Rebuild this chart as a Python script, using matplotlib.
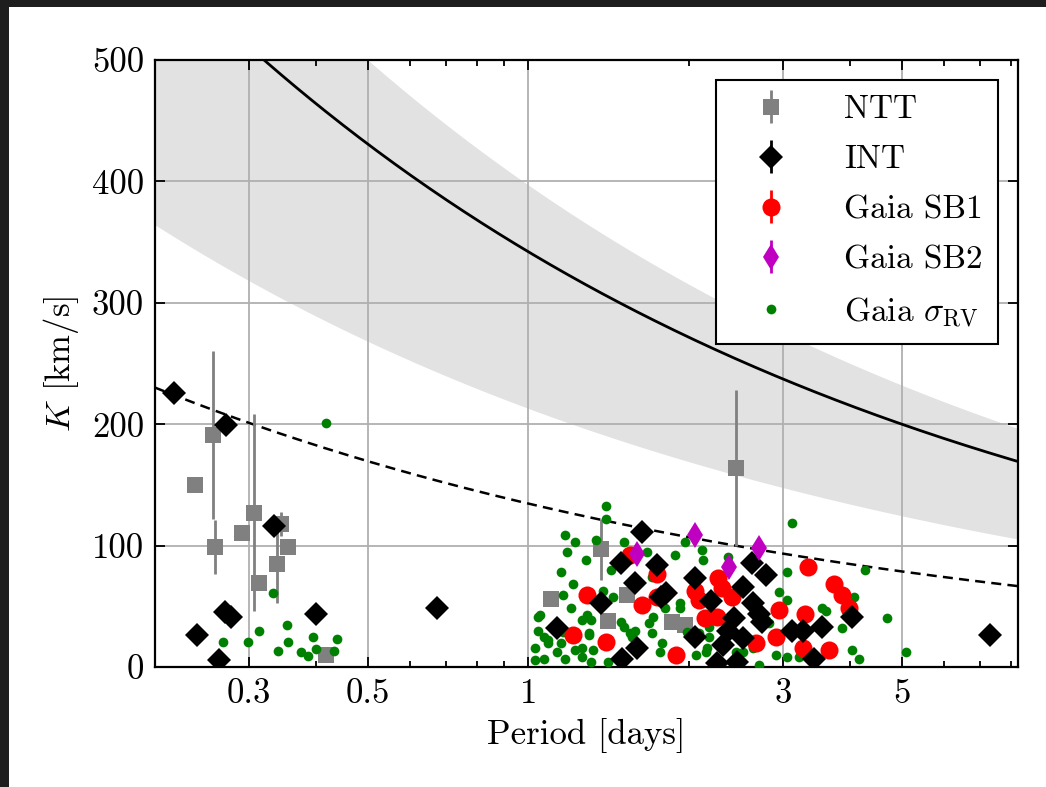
import numpy as np
import matplotlib
matplotlib.use("Agg")
import matplotlib.pyplot as plt
from matplotlib.patches import Rectangle
from matplotlib.ticker import LogLocator, NullFormatter

matplotlib.rcParams['font.family'] = 'serif'
matplotlib.rcParams['font.serif'] = ['cmr10']
matplotlib.rcParams['mathtext.fontset'] = 'cm'
matplotlib.rcParams['axes.unicode_minus'] = False
matplotlib.rcParams['font.size'] = 25

# --- data ---
ntt_P = [0.257, 0.238, 0.259, 0.307, 0.291, 0.313, 0.339, 0.345, 0.355, 0.418,
         1.37, 1.10, 1.41, 1.53, 1.86, 1.96, 2.45]
ntt_K = [191, 150, 99, 127, 110, 69, 85, 118, 99, 10,
         97, 56, 38, 59, 37, 35, 164]
ntt_err = [69, 0, 22, 81, 0, 0, 32, 10, 0, 0,
           25, 0, 0, 0, 0, 0, 64]

int_P = [0.217, 0.272, 0.334, 0.270, 0.277, 0.240, 0.264, 0.401, 0.673, 7.30,
         1.63, 1.49, 1.74, 1.58, 1.37, 1.13, 1.60, 1.50, 1.77, 2.05,
         1.81, 2.20, 2.52, 2.62, 2.79, 2.43, 2.63, 2.70, 2.36, 2.05,
         2.52, 2.31, 2.25, 2.46, 3.11, 2.74, 4.04, 3.55, 3.26, 3.43]
int_K = [226, 199, 116, 45, 41, 26, 6, 44, 49, 26,
         111, 86, 84, 69, 53, 32, 16, 7, 58, 73,
         61, 54, 66, 86, 76, 40, 53, 44, 30, 25,
         24, 18, 3, 4, 30, 37, 41, 33, 30, 7]

sb1_P = [1.29, 1.21, 1.40, 1.63, 1.55, 1.74, 1.74, 2.26, 2.05, 2.30,
         2.40, 2.14, 2.25, 2.95, 1.89, 2.67, 2.91, 2.09, 3.34, 3.74,
         3.87, 3.99, 3.30, 3.26, 3.65]
sb1_K = [59, 26, 21, 51, 92, 77, 58, 73, 63, 65,
         58, 40, 41, 47, 10, 20, 25, 55, 82, 68,
         59, 49, 44, 16, 14]

sb2_P = [1.60, 2.05, 2.70, 2.37]
sb2_K = [93, 109, 98, 82]

rv_P = [0.418, 0.333, 0.268, 0.298, 0.313, 0.354, 0.355, 0.340, 0.396, 0.439,
        0.375, 0.386, 0.400, 0.432,
        1.40, 1.40, 1.17, 1.22, 1.18, 1.28, 1.34, 1.15, 1.43, 1.51,
        1.67, 1.21, 1.16, 1.38, 1.44, 1.20, 1.29, 1.04, 1.26, 1.31,
        1.49, 1.04, 1.07, 1.09, 1.15, 1.30, 1.51, 1.56, 1.70, 1.03,
        1.13, 1.22, 1.32, 1.07, 1.17, 1.26, 1.31, 1.41, 1.03, 1.58,
        1.71, 1.70,
        3.11, 1.96, 2.11, 2.12, 1.88, 2.36, 3.05, 3.05, 1.92, 1.80,
        2.18, 2.16, 2.06, 2.52, 2.91, 2.70, 3.05, 1.78, 2.82,
        4.26, 4.07, 3.55, 3.61, 4.70, 3.86, 4.03, 4.16, 5.09, 3.21,
        1.05, 1.09, 1.16, 1.26, 1.30, 1.55, 1.68, 1.76, 1.92, 1.98,
        2.09, 2.18, 2.15, 2.45, 2.63, 2.79, 2.95]
rv_K = [201, 61, 21, 21, 30, 35, 21, 13, 25, 23,
        12, 9, 15, 13,
        133, 122, 109, 103, 95, 88, 105, 78, 80, 103,
        95, 68, 59, 63, 58, 49, 43, 41, 39, 39,
        37, 30, 25, 20, 20, 26, 33, 25, 28, 16,
        12, 14, 14, 7, 7, 8, 4, 4, 6, 30,
        41, 74,
        119, 103, 96, 88, 92, 91, 78, 55, 53, 49,
        25, 16, 10, 12, 10, 2, 8, 20, 36,
        80, 58, 49, 46, 40, 32, 14, 7, 12, 8,
        43, 22, 29, 16, 28, 28, 36, 12, 49, 29,
        28, 33, 12, 12, 16, 39, 62]

# K ~ A * P^(-1/3) curves
A_mid = 342.0
A_lo, A_hi = 213.0, 397.0
A_dash = 134.6

fig = plt.figure(figsize=(10.46, 7.87), dpi=100)
fig.patch.set_facecolor('#1e1e1e')
fig.patches.append(Rectangle((9 / 1046, 0), 1, 1 - 7 / 787, transform=fig.transFigure,
                             facecolor='white', edgecolor='none', zorder=-10))
ax = fig.add_axes([155 / 1046, 1 - 667 / 787, (1018 - 155) / 1046, (667 - 60) / 787])

ax.set_xscale('log')
ax.set_xlim(0.2, 8.25)
ax.set_ylim(0, 500)

P = np.logspace(np.log10(0.2), np.log10(8.25), 300)
ax.fill_between(P, A_lo * P ** (-1 / 3), A_hi * P ** (-1 / 3), color='#e2e2e2', lw=0, zorder=0.5)
ax.plot(P, A_mid * P ** (-1 / 3), color='black', lw=2.0, zorder=2)
ax.plot(P, A_dash * P ** (-1 / 3), color='black', lw=1.8, ls=(0, (4, 2.5)), zorder=2)

h_ntt = ax.errorbar(ntt_P, ntt_K, yerr=ntt_err, fmt='s', color='#808080', ms=11.5, mew=0,
                    elinewidth=2, capsize=0, label='NTT', zorder=3)
h_int = ax.errorbar(int_P, int_K, yerr=[4] * len(int_K), fmt='D', color='black', ms=12, mew=0,
                    elinewidth=2, capsize=0, label='INT', zorder=5)
h_sb1 = ax.errorbar(sb1_P, sb1_K, yerr=[4] * len(sb1_K), fmt='o', color='red', ms=13, mew=0,
                    elinewidth=2, capsize=0, label='Gaia SB1', zorder=4)
h_sb2 = ax.errorbar(sb2_P, sb2_K, yerr=[4] * len(sb2_K), fmt='d', color='#c000c0', ms=13, mew=0,
                    elinewidth=2, capsize=0, label='Gaia SB2', zorder=6)
h_rv, = ax.plot(rv_P, rv_K, 'o', color='green', ms=7, mew=0, ls='none',
                label=r'Gaia $\sigma_{\rm RV}$', zorder=3.5)

ax.set_xticks([0.3, 0.5, 1, 3, 5])
ax.set_xticklabels(['0.3', '0.5', '1', '3', '5'])
ax.xaxis.set_minor_locator(LogLocator(base=10, subs=np.arange(2, 10)))
ax.xaxis.set_minor_formatter(NullFormatter())
ax.set_yticks([0, 100, 200, 300, 400, 500])

ax.grid(True, which='major', color='#b0b0b0', lw=1.3)
ax.tick_params(direction='in', top=True, bottom=True, left=True, right=True,
               which='both', width=1.3)
ax.tick_params(which='major', length=7, labelsize=25, pad=8)
ax.tick_params(which='minor', length=4)
for s in ax.spines.values():
    s.set_linewidth(1.6)

ax.set_xlabel('Period [days]', fontsize=25, labelpad=6)
ax.set_ylabel(r'$K$ [km/s]', fontsize=25, labelpad=8)

leg = ax.legend([h_ntt, h_int, h_sb1, h_sb2, h_rv],
                ['NTT', 'INT', 'Gaia SB1', 'Gaia SB2', r'Gaia $\sigma_{\rm RV}$'],
                loc='upper right', fontsize=24, fancybox=False, framealpha=1,
                edgecolor='black', handlelength=2.4, handletextpad=1.0, labelspacing=0.62,
                borderaxespad=0.6, borderpad=0.45, numpoints=1)
leg.get_frame().set_linewidth(1.5)

fig.savefig('out.png', dpi=100, facecolor=fig.get_facecolor())
